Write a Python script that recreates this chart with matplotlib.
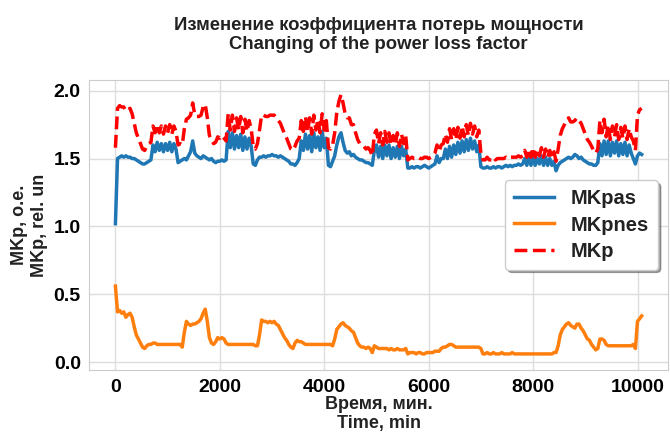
import numpy as np
import matplotlib.pyplot as plt

plt.rcParams['font.family'] = ['Liberation Sans', 'DejaVu Sans']
plt.rcParams['font.weight'] = 'bold'

# sampling every 40 min over one week
time = np.arange(0, 10081, 40)

# active part of the loss factor
mk_pas = [
    1.02,
    1.50, 1.51, 1.52, 1.51, 1.52, 1.51, 1.51, 1.50, 1.50, 1.49, 1.48, 1.47, 1.46, 1.46, 1.47, 1.48, 1.49,
    1.60, 1.55, 1.62, 1.56, 1.61, 1.55, 1.61, 1.56, 1.62, 1.55, 1.61, 1.57,
    1.47, 1.48, 1.49, 1.50, 1.49, 1.52, 1.55, 1.63, 1.54, 1.52, 1.51, 1.50, 1.52, 1.51, 1.50, 1.49,
    1.50, 1.48, 1.47, 1.48, 1.48, 1.49, 1.48, 1.49,
    1.70, 1.58, 1.69, 1.57, 1.67, 1.58, 1.68, 1.56, 1.66, 1.57, 1.65, 1.59,
    1.46, 1.45, 1.49, 1.51, 1.51, 1.52, 1.51, 1.52, 1.52, 1.53, 1.52, 1.52, 1.51, 1.52, 1.51, 1.50,
    1.49, 1.48, 1.46, 1.46, 1.45, 1.47, 1.50,
    1.63, 1.56, 1.68, 1.57, 1.67, 1.55, 1.69, 1.58, 1.66, 1.56, 1.70, 1.58, 1.65,
    1.45, 1.44, 1.48, 1.52, 1.60, 1.66, 1.69, 1.62, 1.56, 1.54, 1.55, 1.52, 1.53, 1.51, 1.50, 1.49,
    1.49, 1.48, 1.47, 1.47, 1.46, 1.45,
    1.56, 1.60, 1.51, 1.59, 1.50, 1.60, 1.52, 1.60, 1.50, 1.58, 1.51, 1.59, 1.50, 1.59, 1.52, 1.57,
    1.43, 1.43, 1.44, 1.43, 1.44, 1.44, 1.43, 1.44, 1.45, 1.44, 1.43, 1.44, 1.45, 1.46, 1.52, 1.47, 1.50,
    1.50, 1.57, 1.50, 1.59, 1.51, 1.60, 1.53, 1.62, 1.54, 1.63, 1.55, 1.64, 1.56, 1.65, 1.57, 1.63, 1.55, 1.60,
    1.44, 1.43, 1.43, 1.44, 1.43, 1.43, 1.44, 1.43, 1.44, 1.44, 1.43, 1.44, 1.45, 1.44, 1.45, 1.44,
    1.45, 1.45, 1.46, 1.45, 1.46,
    1.50, 1.45, 1.51, 1.45, 1.52, 1.45, 1.50, 1.46, 1.52, 1.45, 1.51, 1.45, 1.50, 1.45, 1.48,
    1.41, 1.45, 1.47, 1.48, 1.49, 1.50, 1.51, 1.50, 1.51, 1.53, 1.52, 1.50, 1.51, 1.49, 1.48, 1.47,
    1.46, 1.46, 1.45, 1.45, 1.47,
    1.61, 1.52, 1.63, 1.53, 1.63, 1.52, 1.62, 1.54, 1.63, 1.52, 1.61, 1.53, 1.62, 1.52, 1.60, 1.54,
    1.50, 1.46, 1.52, 1.54, 1.53,
]

# passive part of the loss factor
mk_pnes = [
    0.56,
    0.37, 0.38, 0.36, 0.37, 0.33, 0.35, 0.36, 0.33, 0.26, 0.20, 0.17, 0.14, 0.11, 0.10, 0.12, 0.13, 0.13,
    0.14, 0.14, 0.13, 0.13, 0.13, 0.13, 0.13, 0.13, 0.13, 0.13, 0.13, 0.13,
    0.13, 0.13, 0.11, 0.22, 0.30, 0.28, 0.27, 0.28, 0.28, 0.29, 0.30, 0.32, 0.36, 0.39, 0.30, 0.18,
    0.14, 0.13, 0.15, 0.18, 0.17, 0.18, 0.17, 0.14,
    0.13, 0.13, 0.13, 0.13, 0.13, 0.13, 0.13, 0.13, 0.13, 0.13, 0.13, 0.13,
    0.13, 0.12, 0.12, 0.20, 0.31, 0.30, 0.30, 0.29, 0.30, 0.29, 0.30, 0.28, 0.27, 0.24, 0.21, 0.18,
    0.16, 0.13, 0.11, 0.10, 0.14, 0.16, 0.15,
    0.15, 0.14, 0.13, 0.13, 0.13, 0.13, 0.13, 0.13, 0.13, 0.13, 0.13, 0.13, 0.13,
    0.13, 0.13, 0.12, 0.17, 0.24, 0.26, 0.28, 0.29, 0.27, 0.26, 0.25, 0.23, 0.22, 0.18, 0.14, 0.12,
    0.11, 0.11, 0.10, 0.11, 0.10, 0.07,
    0.12, 0.11, 0.10, 0.10, 0.10, 0.10, 0.10, 0.09, 0.10, 0.09, 0.09, 0.10, 0.09, 0.09, 0.09, 0.10,
    0.06, 0.07, 0.07, 0.07, 0.06, 0.07, 0.07, 0.06, 0.06, 0.07, 0.07, 0.07, 0.07, 0.08, 0.08, 0.08, 0.10,
    0.11, 0.11, 0.12, 0.13, 0.13, 0.12, 0.11, 0.11, 0.11, 0.11, 0.11, 0.11, 0.11, 0.11, 0.11, 0.11, 0.11, 0.11,
    0.10, 0.06, 0.06, 0.07, 0.06, 0.06, 0.07, 0.06, 0.06, 0.06, 0.07, 0.06, 0.06, 0.06, 0.06, 0.07,
    0.06, 0.06, 0.06, 0.06, 0.06,
    0.06, 0.06, 0.06, 0.06, 0.06, 0.06, 0.06, 0.06, 0.06, 0.06, 0.06, 0.06, 0.06, 0.06, 0.07,
    0.07, 0.12, 0.20, 0.24, 0.26, 0.28, 0.29, 0.27, 0.26, 0.25, 0.28, 0.28, 0.25, 0.23, 0.20, 0.17,
    0.16, 0.13, 0.11, 0.09, 0.10,
    0.17, 0.17, 0.16, 0.13, 0.12, 0.12, 0.12, 0.12, 0.12, 0.12, 0.12, 0.12, 0.12, 0.12, 0.12, 0.12,
    0.13, 0.10, 0.30, 0.32, 0.34,
]

mk_pas = np.array(mk_pas)
mk_pnes = np.array(mk_pnes)
assert len(mk_pas) == len(time) == len(mk_pnes)
mk_p = mk_pas + mk_pnes  # total factor

fig, ax = plt.subplots(figsize=(6.7, 4.34), dpi=100)
fig.subplots_adjust(left=0.133, right=0.997, top=0.816, bottom=0.147)

ax.plot(time, mk_pas, color='#1f77b4', lw=2.5, label='MKpas')
ax.plot(time, mk_pnes, color='#ff7f0e', lw=2.5, label='MKpnes')
ax.plot(time, mk_p, color='red', lw=2.5, ls='--', label='MKp')

ax.set_ylim(-0.06, 2.08)
ax.set_yticks([0.0, 0.5, 1.0, 1.5, 2.0])
ax.set_xticks([0, 2000, 4000, 6000, 8000, 10000])
ax.grid(color='#dddddd', lw=1)
for s in ax.spines.values():
    s.set_color('#cccccc')
ax.tick_params(labelsize=14, length=0, pad=6)
for lab in ax.get_xticklabels() + ax.get_yticklabels():
    lab.set_fontweight('bold')

ax.set_title('Изменение коэффициента потерь мощности\nChanging of the power loss factor',
             fontsize=13.3, fontweight='bold', color='#222222', pad=22)
ax.set_xlabel('Время, мин.\nTime, min', fontsize=13, fontweight='bold', color='#222222', labelpad=0)
ax.set_ylabel('MKp, о.е.\nMKp, rel. un', fontsize=13, fontweight='bold', color='#222222', labelpad=4)

leg = ax.legend(loc='center right', shadow=True, fontsize=14.5, borderpad=0.45,
                labelspacing=0.35, bbox_to_anchor=(1.0, 0.5))
for t in leg.get_texts():
    t.set_fontweight('bold')
    t.set_color('#222222')

fig.savefig('out.png', dpi=100)
